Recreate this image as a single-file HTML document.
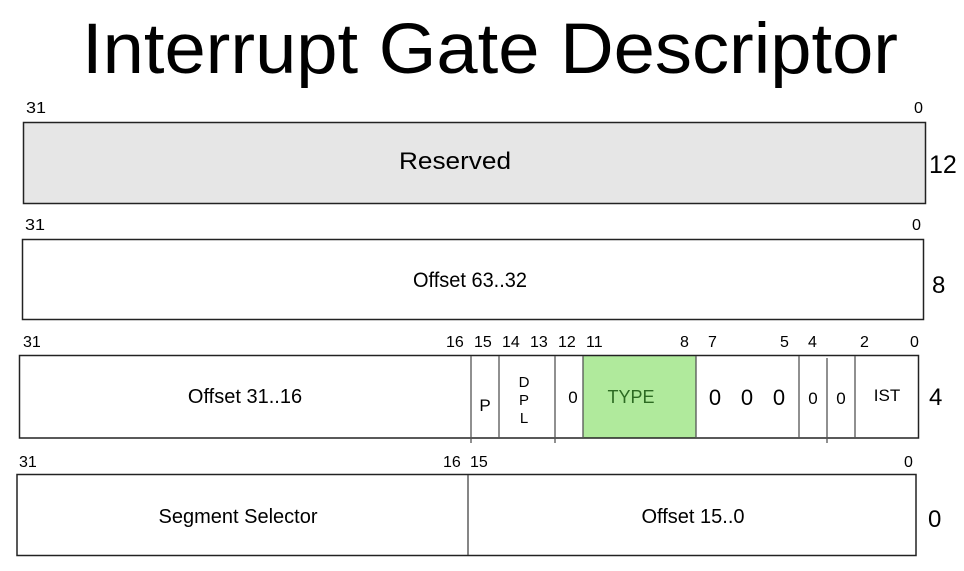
<!DOCTYPE html>
<html><head><meta charset="utf-8"><style>
html,body{margin:0;padding:0;background:#fff;}
svg{display:block;font-family:"Liberation Sans",Arial,sans-serif;}
</style></head><body>
<svg width="964" height="571" viewBox="0 0 964 571" xmlns="http://www.w3.org/2000/svg">
<text x="490" y="73" font-size="71" text-anchor="middle" textLength="816" lengthAdjust="spacingAndGlyphs">Interrupt Gate Descriptor</text>

<!-- row 1 -->
<text x="26" y="113" font-size="16" textLength="20" lengthAdjust="spacingAndGlyphs">31</text>
<text x="914" y="113" font-size="16" textLength="9" lengthAdjust="spacingAndGlyphs">0</text>
<rect x="23.5" y="122.5" width="902" height="81" fill="#e6e6e6" stroke="#222" stroke-width="1.5"/>
<text x="455" y="169" font-size="24" text-anchor="middle" textLength="112" lengthAdjust="spacingAndGlyphs">Reserved</text>
<text x="929" y="173" font-size="25">12</text>

<!-- row 2 -->
<text x="25" y="230" font-size="16" textLength="20" lengthAdjust="spacingAndGlyphs">31</text>
<text x="912" y="230" font-size="16" textLength="9" lengthAdjust="spacingAndGlyphs">0</text>
<rect x="22.5" y="239.5" width="901" height="80" fill="#fff" stroke="#222" stroke-width="1.5"/>
<text x="470" y="287" font-size="21" text-anchor="middle" textLength="114" lengthAdjust="spacingAndGlyphs">Offset 63..32</text>
<text x="932" y="293" font-size="24">8</text>

<!-- row 3 -->
<g font-size="16">
<text x="23" y="347">31</text>
<text x="446" y="347">16</text>
<text x="474" y="347">15</text>
<text x="502" y="347">14</text>
<text x="530" y="347">13</text>
<text x="558" y="347">12</text>
<text x="586" y="347">11</text>
<text x="680" y="347">8</text>
<text x="708" y="347">7</text>
<text x="780" y="347">5</text>
<text x="808" y="347">4</text>
<text x="860" y="347">2</text>
<text x="910" y="347">0</text>
</g>
<rect x="583" y="356" width="113" height="82" fill="#b0ea9c"/>
<rect x="19.5" y="355.5" width="899" height="82.5" fill="none" stroke="#222" stroke-width="1.5"/>
<g stroke="#555" stroke-width="1.3">
<line x1="471" y1="356" x2="471" y2="443"/>
<line x1="499" y1="356" x2="499" y2="438"/>
<line x1="555" y1="356" x2="555" y2="443"/>
<line x1="583" y1="356" x2="583" y2="438"/>
<line x1="696" y1="356" x2="696" y2="438"/>
<line x1="799" y1="356" x2="799" y2="438"/>
<line x1="827" y1="358" x2="827" y2="443"/>
<line x1="855" y1="356" x2="855" y2="438"/>
</g>
<text x="245" y="403" font-size="20" text-anchor="middle">Offset 31..16</text>
<text x="485" y="411" font-size="17" text-anchor="middle">P</text>
<g font-size="15" text-anchor="middle">
<text x="524" y="387">D</text>
<text x="524" y="405">P</text>
<text x="524" y="423">L</text>
</g>
<text x="573" y="403" font-size="17" text-anchor="middle">0</text>
<text x="631" y="403" font-size="18" text-anchor="middle" fill="#2c6a22">TYPE</text>
<g font-size="22" text-anchor="middle">
<text x="715" y="405">0</text>
<text x="747" y="405">0</text>
<text x="779" y="405">0</text>
</g>
<text x="813" y="404" font-size="17" text-anchor="middle">0</text>
<text x="841" y="404" font-size="17" text-anchor="middle">0</text>
<text x="887" y="401" font-size="17" text-anchor="middle">IST</text>
<text x="929" y="405" font-size="24">4</text>

<!-- row 4 -->
<g font-size="16">
<text x="19" y="467">31</text>
<text x="443" y="467">16</text>
<text x="470" y="467">15</text>
<text x="904" y="467">0</text>
</g>
<rect x="17" y="474.5" width="899" height="81" fill="#fff" stroke="#222" stroke-width="1.5"/>
<line x1="468" y1="475" x2="468" y2="555" stroke="#444" stroke-width="1.3"/>
<text x="238" y="523" font-size="20" text-anchor="middle">Segment Selector</text>
<text x="693" y="523" font-size="20" text-anchor="middle">Offset 15..0</text>
<text x="928" y="527" font-size="24">0</text>
</svg>
</body></html>
